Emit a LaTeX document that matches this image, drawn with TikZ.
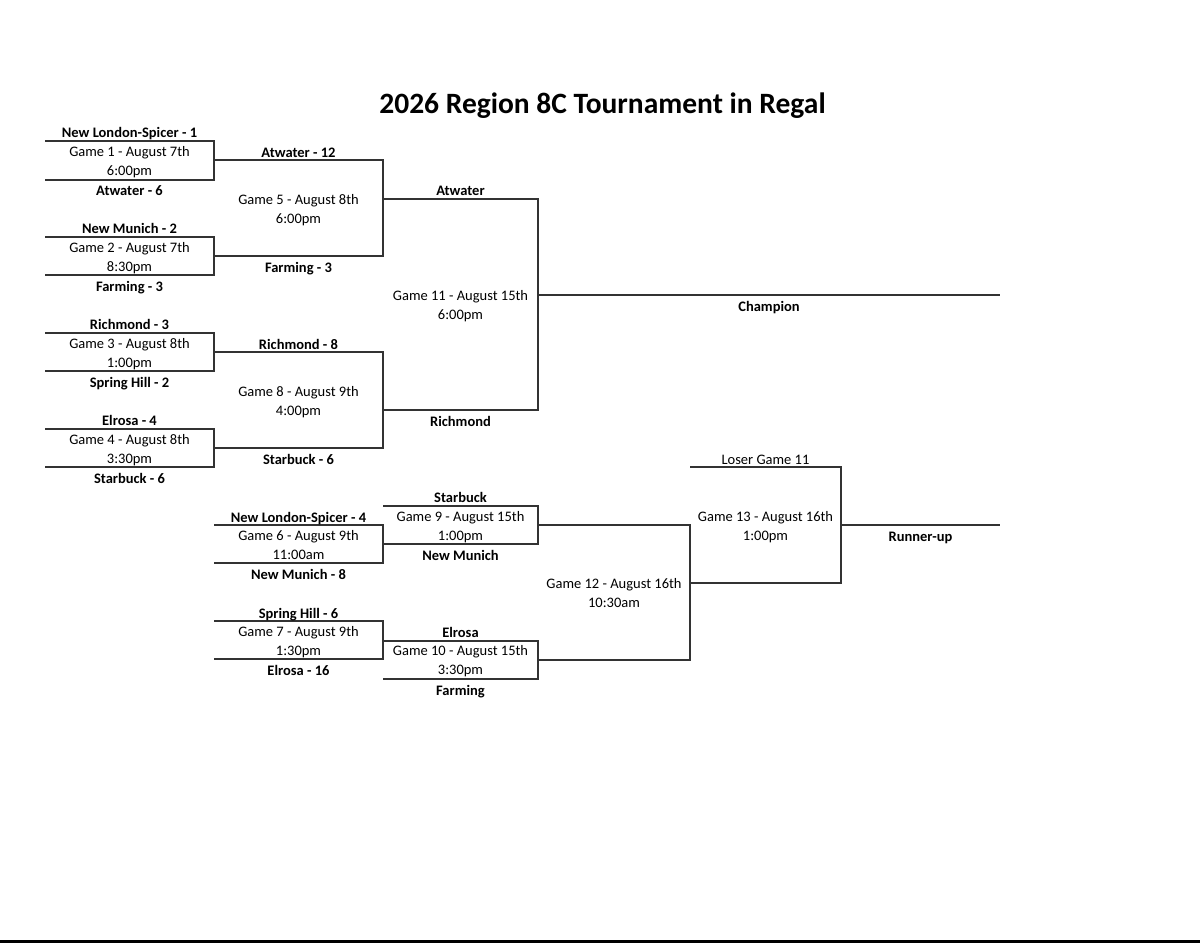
\documentclass[tikz,border=0pt]{standalone}
\usepackage{fontspec}
\setmainfont{Carlito}
\begin{document}
\begin{tikzpicture}[x=1pt,y=-1pt,
  brk/.style={line width=1.4pt, draw=black!80},
  team/.style={anchor=base, inner sep=0pt, yshift=-1pt, font=\fontsize{14.5}{19}\selectfont\bfseries},
  plain/.style={anchor=base, inner sep=0pt, yshift=-1pt, font=\fontsize{14.5}{19}\selectfont},
  info/.style={anchor=base, inner sep=0pt, align=center, yshift=-20pt, font=\fontsize{14.5}{19}\selectfont}]
\useasboundingbox (0,0) rectangle (1200,943);
\fill[white] (0,0) rectangle (1200,943);
\node[anchor=base, inner sep=0pt, font=\fontsize{29.5}{34}\selectfont\bfseries] (title) at (602.5,113) {2026 Region 8C Tournament in Regal};

% ---- Round 1 ----
\foreach \n/\t/\b in {g1/141/180, g2/237/275, g3/333/371, g4/429/467}{
  \coordinate (\n tl) at (45,\t); \coordinate (\n tr) at (214,\t);
  \coordinate (\n bl) at (45,\b); \coordinate (\n br) at (214,\b);
  \draw[brk] (\n tl) -- (\n tr) -- (\n br) -- (\n bl);
}
\node[team] (t1a) at (129.5,136.5) {New London-Spicer - 1};
\node[info] (i1) at (129.5,155.5) {Game 1 - August 7th\\6:00pm};
\node[team] (t1b) at (129.5,194.5) {Atwater - 6};
\node[team] (t2a) at (129.5,232.5) {New Munich - 2};
\node[info] (i2) at (129.5,251.5) {Game 2 - August 7th\\8:30pm};
\node[team] (t2b) at (129.5,290.5) {Farming - 3};
\node[team] (t3a) at (129.5,328.5) {Richmond - 3};
\node[info] (i3) at (129.5,347.5) {Game 3 - August 8th\\1:00pm};
\node[team] (t3b) at (129.5,386.5) {Spring Hill - 2};
\node[team] (t4a) at (129.5,424.5) {Elrosa - 4};
\node[info] (i4) at (129.5,443.5) {Game 4 - August 8th\\3:30pm};
\node[team] (t4b) at (129.5,482.5) {Starbuck - 6};

% ---- Round 2 (upper) ----
\coordinate (g5tr) at (383,160); \coordinate (g5br) at (383,256);
\coordinate (g8tr) at (383,352); \coordinate (g8br) at (383,448);
\draw[brk] (g1tr |- g5tr) -- (g5tr) -- (g5br) -- (g2tr |- g5br);
\draw[brk] (g3tr |- g8tr) -- (g8tr) -- (g8br) -- (g4tr |- g8br);
\node[team] (t5a) at (298.5,156.5) {Atwater - 12};
\node[info] (i5) at (298.5,203.5) {Game 5 - August 8th\\6:00pm};
\node[team] (t5b) at (298.5,271.5) {Farming - 3};
\node[team] (t8a) at (298.5,348.5) {Richmond - 8};
\node[info] (i8) at (298.5,395.5) {Game 8 - August 9th\\4:00pm};
\node[team] (t8b) at (298.5,463.5) {Starbuck - 6};

% ---- Game 11 / Champion ----
\coordinate (g11tr) at (538,199); \coordinate (g11br) at (538,410);
\coordinate (champ) at (1000,295);
\draw[brk] (g5tr |- g11tr) -- (g11tr) -- (g11br) -- (g8tr |- g11br);
\draw[brk] (538,295) -- (champ);
\node[team] (t11a) at (460.5,194.5) {Atwater};
\node[info] (i11) at (460.5,299.5) {Game 11 - August 15th\\6:00pm};
\node[team] (t11b) at (460.5,425.5) {Richmond};
\node[team] (tch) at (769,310.5) {Champion};

% ---- Lower bracket ----
\foreach \n/\t/\b in {g6/525/563, g7/621/659}{
  \coordinate (\n tl) at (214,\t); \coordinate (\n tr) at (383,\t);
  \coordinate (\n bl) at (214,\b); \coordinate (\n br) at (383,\b);
  \draw[brk] (\n tl) -- (\n tr) -- (\n br) -- (\n bl);
}
\foreach \n/\t/\b in {g9/506/544, g10/641/679}{
  \coordinate (\n tl) at (383,\t); \coordinate (\n tr) at (538,\t);
  \coordinate (\n bl) at (383,\b); \coordinate (\n br) at (538,\b);
  \draw[brk] (\n tl) -- (\n tr) -- (\n br) -- (\n bl);
}
\node[team] (t6a) at (298.5,521.5) {New London-Spicer - 4};
\node[info] (i6) at (298.5,539.5) {Game 6 - August 9th\\11:00am};
\node[team] (t6b) at (298.5,578.5) {New Munich - 8};
\node[team] (t7a) at (298.5,617.5) {Spring Hill - 6};
\node[info] (i7) at (298.5,635.5) {Game 7 - August 9th\\1:30pm};
\node[team] (t7b) at (298.5,674.5) {Elrosa - 16};
\node[team] (t9a) at (460.5,501.5) {Starbuck};
\node[info] (i9) at (460.5,520.5) {Game 9 - August 15th\\1:00pm};
\node[team] (t9b) at (460.5,559.5) {New Munich};
\node[team] (t10a) at (460.5,636.5) {Elrosa};
\node[info] (i10) at (460.5,654.5) {Game 10 - August 15th\\3:30pm};
\node[team] (t10b) at (460.5,694.5) {Farming};

% ---- Game 12 ----
\coordinate (g12tr) at (690,525); \coordinate (g12br) at (690,660);
\draw[brk] (g9tr |- g12tr) -- (g12tr) -- (g12br) -- (g10tr |- g12br);
\node[info] (i12) at (614,587.5) {Game 12 - August 16th\\10:30am};

% ---- Game 13 / Runner-up ----
\coordinate (g13tl) at (690,467); \coordinate (g13tr) at (841,467);
\coordinate (g13br) at (841,583); \coordinate (g13bl) at (690,583);
\coordinate (runner) at (1000,525);
\draw[brk] (g13tl) -- (g13tr) -- (g13br) -- (g13bl);
\draw[brk] (841,525) -- (runner);
\node[plain] (l11) at (765.5,463.5) {Loser Game 11};
\node[info] (i13) at (765.5,520.5) {Game 13 - August 16th\\1:00pm};
\node[team] (tru) at (920.5,540.5) {Runner-up};

% bottom rule
\fill[black] (0,940) rectangle (1200,943);
\end{tikzpicture}
\end{document}
